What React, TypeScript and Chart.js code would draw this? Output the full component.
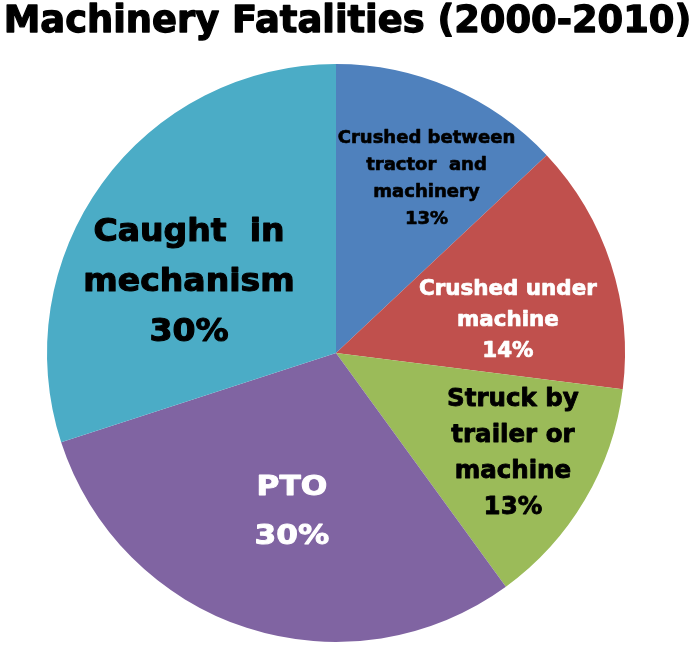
import React, { useEffect, useRef } from 'react';
import { Chart, registerables } from 'chart.js';

Chart.register(...registerables);

const TITLE = 'Machinery Fatalities (2000-2010)';
const categories = [
  'Crushed between tractor and machinery',
  'Crushed under machine',
  'Struck by trailer or machine',
  'PTO',
  'Caught in mechanism',
];
const values = [13, 14, 13, 30, 30];
// how each category name is broken into lines inside its slice
const labelLines = [
  ['Crushed between', 'tractor  and', 'machinery'],
  ['Crushed under', 'machine'],
  ['Struck by', 'trailer or', 'machine'],
  ['PTO'],
  ['Caught  in', 'mechanism'],
];
const colors = ['#4F81BD', '#C0504D', '#9BBB59', '#8064A2', '#4BACC6'];

// label styling: font size, horizontal stretch, colour, line height, radial fraction, angle offset (deg)
const labelStyles = [
  { size: 17.5, sx: 1.03, color: '#000000', lh: 27, rf: 0.685, da: 3.8 },
  { size: 21, sx: 1.02, color: '#FFFFFF', lh: 31, rf: 0.607, da: 6.5 },
  { size: 24.5, sx: 1.0, color: '#000000', lh: 36, rf: 0.7, da: -1.6 },
  { size: 26, sx: 1.2, color: '#FFFFFF', lh: 49, rf: 0.564, da: -2.3 },
  { size: 31.5, sx: 1.05, color: '#000000', lh: 50, rf: 0.568, da: -9.6 },
];

const FONT = '"DejaVu Sans", sans-serif';

function heavyText(ctx: CanvasRenderingContext2D, text: string, x: number, y: number, size: number) {
  ctx.lineWidth = Math.max(0.6, size * 0.035);
  ctx.lineJoin = 'round';
  ctx.strokeText(text, x, y);
  ctx.fillText(text, x, y);
}

const labelPlugin = {
  id: 'sliceLabels',
  afterDatasetsDraw(chart: any) {
    const ctx = chart.ctx as CanvasRenderingContext2D;
    // title
    ctx.save();
    ctx.font = `bold 37px ${FONT}`;
    ctx.fillStyle = '#000000';
    ctx.strokeStyle = '#000000';
    ctx.textAlign = 'center';
    ctx.textBaseline = 'alphabetic';
    ctx.translate(347.5, 32);
    ctx.scale(0.995, 1);
    heavyText(ctx, TITLE, 0, 0, 37);
    ctx.restore();

    const meta = chart.getDatasetMeta(0);
    meta.data.forEach((arc: any, i: number) => {
      const st = labelStyles[i];
      const lines = [...labelLines[i], `${values[i]}%`];
      const mid = (arc.startAngle + arc.endAngle) / 2 + (st.da * Math.PI) / 180;
      const r = arc.outerRadius * st.rf;
      const cx = arc.x + Math.cos(mid) * r;
      const cy = arc.y + Math.sin(mid) * r;
      ctx.save();
      ctx.font = `bold ${st.size}px ${FONT}`;
      ctx.fillStyle = st.color;
      ctx.strokeStyle = st.color;
      ctx.textAlign = 'center';
      ctx.textBaseline = 'alphabetic';
      const capHalf = (0.729 * st.size) / 2;
      lines.forEach((ln, j) => {
        const y = cy + (j - (lines.length - 1) / 2) * st.lh + capHalf;
        ctx.save();
        ctx.translate(cx, y);
        ctx.scale(st.sx, 1);
        heavyText(ctx, ln, 0, 0, st.size);
        ctx.restore();
      });
      ctx.restore();
    });
  },
};

export default function App() {
  const ref = useRef<HTMLCanvasElement | null>(null);
  useEffect(() => {
    if (!ref.current) return;
    const chart = new Chart(ref.current, {
      type: 'pie',
      data: {
        labels: categories,
        datasets: [
          {
            data: values,
            backgroundColor: colors,
            borderWidth: 0,
          },
        ],
      },
      options: {
        responsive: false,
        animation: false,
        layout: { padding: { left: 47, right: 70, top: 64, bottom: 6 } },
        plugins: {
          legend: { display: false },
          tooltip: { enabled: false },
          title: { display: false },
        },
      },
      plugins: [labelPlugin],
    });
    return () => chart.destroy();
  }, []);
  return (
    <div style={{ position: 'absolute', left: 0, top: 0, width: 695, height: 648, background: '#ffffff' }}>
      <canvas ref={ref} width={695} height={648} style={{ display: 'block' }} />
    </div>
  );
}
